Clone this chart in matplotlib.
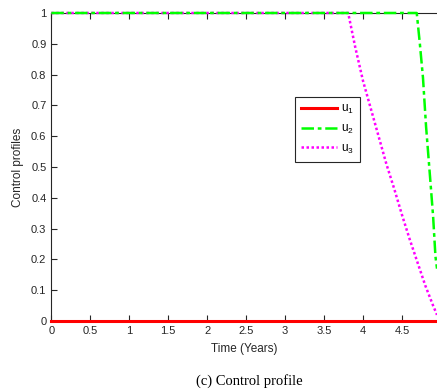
import matplotlib
matplotlib.use("Agg")
import matplotlib.pyplot as plt
import numpy as np

# control profiles
t_u1 = [0.0, 4.95]
u1 = [0.0, 0.0]

t_u2 = [0.0, 4.69, 4.73, 4.77, 4.81, 4.86, 4.90, 4.93, 4.95]
u2 = [1.0, 1.0, 0.90, 0.79, 0.63, 0.47, 0.34, 0.21, 0.17]

t_u3 = [0.0, 3.81, 3.90, 4.00, 4.10, 4.20, 4.30, 4.40, 4.50, 4.60, 4.70, 4.80, 4.90, 4.95]
u3 = [1.0, 1.0, 0.89, 0.78, 0.69, 0.60, 0.51, 0.43, 0.345, 0.265, 0.19, 0.115, 0.05, 0.02]

xticks = np.arange(0, 5, 0.5)
xticklabels = ["0", "0.5", "1", "1.5", "2", "2.5", "3", "3.5", "4", "4.5"]
yticks = np.arange(0, 1.01, 0.1)
yticklabels = ["0", "0.1", "0.2", "0.3", "0.4", "0.5", "0.6", "0.7", "0.8", "0.9", "1"]

plt.rcParams['font.family'] = ['Liberation Sans', 'DejaVu Sans']

fig = plt.figure(figsize=(4.37, 3.91), dpi=100)
ax = fig.add_axes([0.1174, 0.179, 1.0 - 0.1174, 0.9668 - 0.179])

ax.plot(t_u1, u1, color='#ff0000', lw=2.2, label=r'$\mathregular{u_1}$', clip_on=False, zorder=5)
ax.plot(t_u3, u3, color='#ff00ff', lw=1.8, linestyle=(0, (1, 1)),
        label=r'$\mathregular{u_3}$', clip_on=False, zorder=4)
ax.plot(t_u2, u2, color='#00ff00', lw=1.8, linestyle=(0, (5, 1.5, 1.5, 1.5)),
        label=r'$\mathregular{u_2}$', clip_on=False, zorder=4)

ax.set_xlim(0, 4.95)
ax.set_ylim(0, 1)
ax.set_xticks(xticks)
ax.set_xticklabels(xticklabels)
ax.set_yticks(yticks)
ax.set_yticklabels(yticklabels)
ax.tick_params(direction='in', labelsize=8, top=True, length=4, width=0.8, colors='#262626')
ax.spines['right'].set_visible(False)
for s in ['left', 'top', 'bottom']:
    ax.spines[s].set_color('#262626')
    ax.spines[s].set_linewidth(0.8)

ax.set_xlabel("Time (Years)", fontsize=8.5, color='#262626', labelpad=5)
ax.set_ylabel("Control profiles", fontsize=8.5, color='#262626', labelpad=5)

handles, labels = ax.get_legend_handles_labels()
order = [0, 2, 1]
leg = ax.legend([handles[i] for i in order], [labels[i] for i in order],
                loc='upper left', bbox_to_anchor=(0.617, 0.745), fontsize=8.5,
                handlelength=3.0, handletextpad=0.4, labelspacing=0.55,
                borderpad=0.5, fancybox=False, framealpha=1)
leg.get_frame().set_edgecolor('#262626')
leg.get_frame().set_linewidth(0.8)

fig.text(0.57, 0.008, "(c) Control profile", ha='center', va='bottom',
         fontsize=10.5, family=['Liberation Serif', 'DejaVu Serif'])

fig.savefig("out.png", dpi=100)
